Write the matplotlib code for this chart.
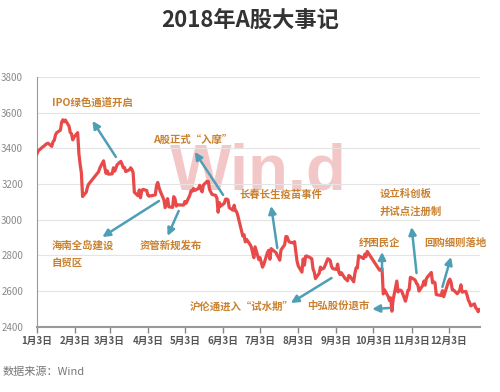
import pandas as pd
import matplotlib
matplotlib.use("Agg")
import matplotlib.pyplot as plt

plt.rcParams['font.family'] = ['Noto Sans CJK SC', 'DejaVu Sans']

# 上证综指 2018 日收盘（按月）
jan = [3369, 3385, 3391, 3409, 3413, 3421, 3425, 3428, 3410, 3436, 3444, 3474, 3487, 3501, 3546,
       3559, 3548, 3558, 3523, 3488, 3481]
feb = [3447, 3462, 3487, 3370, 3309, 3262, 3129, 3154, 3184, 3199, 3268, 3289, 3329, 3292, 3259]
mar = [3273, 3254, 3256, 3290, 3271, 3288, 3307, 3326, 3310, 3291, 3292, 3269, 3279, 3290, 3281,
       3263, 3153, 3133, 3166, 3122, 3161, 3169]
apr = [3163, 3136, 3131, 3138, 3190, 3208, 3180, 3159, 3110, 3067, 3091, 3117, 3071, 3068, 3128,
       3117, 3075, 3082]
may = [3081, 3101, 3091, 3136, 3161, 3159, 3174, 3163, 3174, 3192, 3170, 3155, 3193, 3214, 3214,
       3169, 3155, 3141, 3135, 3120, 3041, 3095]
jun = [3075, 3091, 3114, 3115, 3110, 3067, 3052, 3080, 3049, 3044, 3021, 2907, 2915, 2875, 2889,
       2859, 2844, 2813, 2786, 2847]
jul = [2775, 2786, 2759, 2733, 2747, 2815, 2827, 2777, 2837, 2831, 2814, 2798, 2787, 2772, 2829,
       2859, 2905, 2903, 2882, 2873, 2869, 2876]
aug = [2824, 2768, 2740, 2705, 2779, 2744, 2795, 2795, 2785, 2780, 2723, 2705, 2669, 2698, 2733,
       2722, 2724, 2729, 2780, 2777, 2769, 2737, 2725]
sep = [2720, 2750, 2704, 2691, 2702, 2669, 2664, 2656, 2686, 2682, 2651, 2699, 2730, 2729, 2797,
       2781, 2806, 2792, 2821]
oct_ = [2716, 2721, 2725, 2583, 2606, 2568, 2546, 2561, 2486, 2550, 2655, 2594, 2603, 2604, 2598,
        2542, 2568, 2603]
nov = [2606, 2676, 2665, 2659, 2641, 2635, 2599, 2630, 2655, 2632, 2668, 2679, 2703, 2645, 2651,
       2645, 2579, 2575, 2574, 2601, 2567, 2588]
dec = [2654, 2666, 2649, 2606, 2605, 2584, 2594, 2603, 2634, 2593, 2597, 2576, 2549, 2536, 2516,
       2527, 2505, 2498, 2483, 2494]

holidays = ['2018-02-15', '2018-02-16', '2018-02-19', '2018-02-20', '2018-02-21',
            '2018-04-05', '2018-04-06', '2018-04-30', '2018-05-01', '2018-06-18',
            '2018-09-24', '2018-10-01', '2018-10-02', '2018-10-03', '2018-10-04', '2018-10-05']

values = jan + feb + mar + apr + may + jun + jul + aug + sep + oct_ + nov + dec
days = pd.bdate_range('2018-01-03', '2018-12-28')
days = days[~days.isin(pd.to_datetime(holidays))]
n = min(len(days), len(values))
days, values = days[:n], values[:n]

tick_dates = [pd.Timestamp(2018, m, 3) for m in range(1, 13)]
tick_labels = [f"{m}月3日" for m in range(1, 13)]
y_ticks = [2400, 2600, 2800, 3000, 3200, 3400, 3600, 3800]

# 事件: (文字, 文字位置, 箭头尾, 箭头头)
events = [
    ("IPO绿色通道开启", ('2018-01-15', 3654), ('2018-03-08', 3351), ('2018-02-17', 3553)),
    ("A股正式“入摩”", ('2018-04-07', 3446), ('2018-06-03', 3138), ('2018-05-11', 3379)),
    ("长春长生疫苗事件", ('2018-06-16', 3138), ('2018-07-17', 2840), ('2018-07-12', 3076)),
    ("设立科创板\n并试点注册制", ('2018-10-08', 3096), ('2018-11-07', 2700), ('2018-11-03', 2958)),
    ("纾困民企", ('2018-09-21', 2869), ('2018-10-10', 2717), ('2018-10-10', 2818)),
    ("回购细则落地", ('2018-11-13', 2869), ('2018-11-28', 2622), ('2018-12-05', 2790)),
    ("沪伦通进入“试水期”", ('2018-05-07', 2509), ('2018-08-30', 2672), ('2018-07-28', 2532)),
    ("中弘股份退市", ('2018-08-10', 2515), ('2018-10-16', 2504), ('2018-10-02', 2498)),
    ("海南全岛建设\n自贸区", ('2018-01-15', 2806), ('2018-04-12', 3104), ('2018-02-25', 2902)),
    ("资管新规发布", ('2018-03-27', 2857), ('2018-04-28', 3048), ('2018-04-19', 2908)),
]

fig = plt.figure(figsize=(5, 3.92), dpi=100)
ax = fig.add_axes([0.074, 0.167, 0.886, 0.637])

# 水印
ax.text(0.30, 0.547, "Win.d", transform=ax.transAxes, fontsize=47, fontweight='bold',
        family='Liberation Sans', color='#eeb0b0', alpha=0.7, va='baseline', zorder=0.5)

ax.plot(days, values, color='#e84a4a', lw=2.3, zorder=3)

for label, txt, tail, head in events:
    ax.text(pd.Timestamp(txt[0]), txt[1], label, fontsize=7.5, fontweight='bold',
            color='#c9812f', ha='left', va='center', linespacing=1.9, zorder=5)
    ax.annotate('', xy=(pd.Timestamp(head[0]), head[1]),
                xytext=(pd.Timestamp(tail[0]), tail[1]),
                arrowprops=dict(arrowstyle='-|>', color='#4e9fb5', lw=1.8,
                                mutation_scale=11, shrinkA=0, shrinkB=0), zorder=4)

ax.set_xlim(pd.Timestamp('2018-01-03'), pd.Timestamp('2018-12-28 12:00'))
ax.set_ylim(2400, 3800)
ax.set_xticks(tick_dates)
ax.set_xticklabels(tick_labels, fontsize=7, color='#555555', fontweight='bold')
ax.set_yticks(y_ticks)
ax.set_yticklabels([str(v) for v in y_ticks], fontsize=7, color='#8a8a8a')
ax.tick_params(axis='y', length=0, pad=10)
ax.tick_params(axis='x', length=4, width=1, color='#888888', direction='out', pad=3)

ax.grid(axis='y', color='#e4e4e4', lw=0.8)
ax.set_axisbelow(True)
for s in ['top', 'right']:
    ax.spines[s].set_visible(False)
ax.spines['left'].set_color('#999999')
ax.spines['bottom'].set_color('#999999')
ax.spines['bottom'].set_linewidth(1.5)

fig.text(0.5, 1 - 20 / 392, "2018年A股大事记", ha='center', va='center', fontsize=16,
         fontweight='bold', color='#333333')
fig.text(0.006, 1 - 372 / 392, "数据来源：Wind", ha='left', va='center', fontsize=8,
         color='#777777')

fig.savefig("out.png", dpi=100)
